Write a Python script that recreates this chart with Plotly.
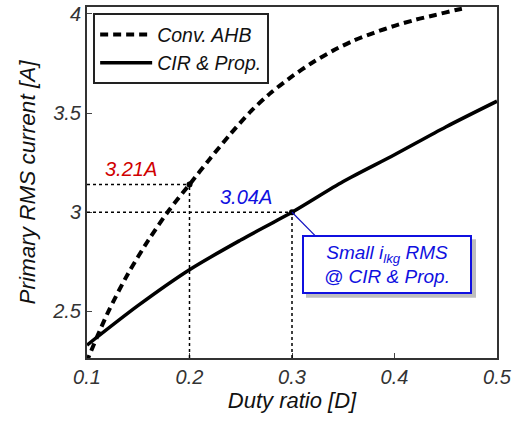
import plotly.graph_objects as go

# Data
duty_conv = [0.095, 0.10, 0.12, 0.14, 0.16, 0.18, 0.20, 0.22, 0.24, 0.26, 0.28, 0.30,
             0.32, 0.34, 0.36, 0.38, 0.40, 0.42, 0.44, 0.46, 0.47]
rms_conv = [2.18, 2.25, 2.49, 2.69, 2.86, 3.01, 3.14, 3.27, 3.395, 3.51, 3.605, 3.685,
            3.755, 3.815, 3.865, 3.905, 3.94, 3.97, 3.995, 4.02, 4.03]
duty_cir = [0.10, 0.15, 0.20, 0.25, 0.30, 0.35, 0.40, 0.45, 0.50]
rms_cir = [2.33, 2.53, 2.71, 2.86, 3.00, 3.155, 3.29, 3.43, 3.56]

series_names = ["Conv. AHB", "CIR & Prop."]
x_ticks = [0.1, 0.2, 0.3, 0.4, 0.5]
y_ticks = [2.5, 3, 3.5, 4]
y_tick_text = ["2.5", "3", "3.5", "4"]

mark_x = [0.2, 0.3]
mark_y = [3.14, 3.0]
mark_labels = ["3.21A", "3.04A"]
mark_label_x = [0.1156, 0.2278]
mark_colors = ["#d00000", "#1010e0"]
callout_text = "Small i<sub>lkg</sub> RMS<br>@ CIR & Prop."
callout_pos = (0.3254, 2.867)

FONT = "Liberation Sans, Arial, sans-serif"
YMIN, YMAX = 2.265, 4.035
XMIN, XMAX = 0.1, 0.5
L, R, T, B = 87, 25, 3, 65
PW, PH = 522 - L - R, 423 - T - B


def px(xpix):
    return (xpix - L) / PW


def py(ypix):
    return (423 - B - ypix) / PH


fig = go.Figure()
fig.add_trace(go.Scatter(x=duty_conv, y=rms_conv, mode="lines", name=series_names[0],
                         line=dict(color="black", width=4, dash="8px,5px", shape="spline", smoothing=0.8)))
fig.add_trace(go.Scatter(x=duty_cir, y=rms_cir, mode="lines", name=series_names[1],
                         line=dict(color="black", width=3.5, shape="spline", smoothing=0.8)))
fig.add_trace(go.Scatter(x=mark_x, y=mark_y, mode="markers", showlegend=False,
                         marker=dict(color="black", size=6)))

# dotted guide lines
for mx, my in zip(mark_x, mark_y):
    fig.add_shape(type="line", x0=XMIN, x1=mx, y0=my, y1=my, xref="x", yref="y",
                  line=dict(color="black", width=1.5, dash="dot"))
    fig.add_shape(type="line", x0=mx, x1=mx, y0=YMIN, y1=my, xref="x", yref="y",
                  line=dict(color="black", width=1.5, dash="dot"))

for lx, my, lab, col in zip(mark_label_x, mark_y, mark_labels, mark_colors):
    fig.add_annotation(x=lx, y=my, text=lab, showarrow=False,
                       xanchor="left", yanchor="bottom", yshift=2,
                       font=dict(family=FONT, size=20, color=col, style="italic"))

# connector line from the point to the callout
fig.add_shape(type="line", xref="x", yref="y", x0=mark_x[1], y0=mark_y[1],
              x1=callout_pos[0], y1=callout_pos[1], line=dict(color="#1010c0", width=1.2))

# shadow of the callout box
fig.add_shape(type="rect", xref="paper", yref="paper",
              x0=px(306), x1=px(476), y0=py(297), y1=py(238),
              line=dict(width=0), fillcolor="rgba(110,110,110,0.45)", layer="above")
fig.add_annotation(xref="paper", yref="paper", x=px(387), y=py(263.5),
                   text=callout_text, showarrow=False,
                   xanchor="center", yanchor="middle",
                   font=dict(family=FONT, size=19, color="#1010e0", style="italic"),
                   bgcolor="white", bordercolor="#1010e0", borderwidth=2, borderpad=2,
                   width=162, height=51, align="center")

fig.update_layout(
    width=522, height=423,
    margin=dict(l=L, r=R, t=T, b=B),
    paper_bgcolor="white", plot_bgcolor="white",
    font=dict(family=FONT, size=20, color="#222"),
    showlegend=True,
    legend=dict(x=0.015, y=0.982, xanchor="left", yanchor="top",
                bgcolor="white", bordercolor="#222", borderwidth=2,
                font=dict(family=FONT, size=19.5, color="#111", style="italic"),
                itemwidth=52, tracegroupgap=0),
    xaxis=dict(range=[XMIN, XMAX], tickvals=x_ticks, ticktext=[str(v) for v in x_ticks],
               ticks="inside", ticklen=5, tickcolor="#444", showgrid=False, zeroline=False,
               showline=True, linecolor="#333", linewidth=2, mirror=True,
               tickfont=dict(family=FONT, size=20, style="italic", color="#333"),
               title=dict(text="Duty ratio [D]", font=dict(family=FONT, size=22, style="italic", color="#111"),
                          standoff=6)),
    yaxis=dict(range=[YMIN, YMAX], tickvals=y_ticks, ticktext=y_tick_text,
               ticks="inside", ticklen=5, tickcolor="#444", showgrid=False, zeroline=False,
               showline=True, linecolor="#333", linewidth=2, mirror=True,
               tickfont=dict(family=FONT, size=20, style="italic", color="#333"),
               title=dict(text="Primary RMS current [A]", font=dict(family=FONT, size=22.5, style="italic", color="#111"),
                          standoff=10)),
)

fig.write_html("out.html")
